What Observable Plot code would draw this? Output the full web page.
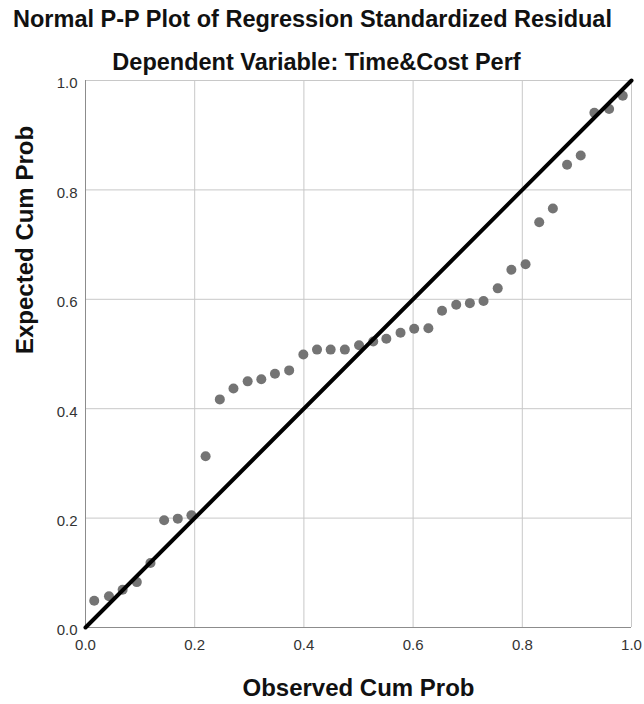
<!DOCTYPE html>
<html>
<head>
<meta charset="utf-8">
<script src="https://cdn.jsdelivr.net/npm/d3@7"></script>
<script src="https://cdn.jsdelivr.net/npm/@observablehq/plot@0.6"></script>
<style>
  html, body { margin: 0; padding: 0; background: #fff; }
  #chart svg { display: block; }
</style>
</head>
<body>
<div id="chart"></div>
<script>
const title = "Normal P-P Plot of Regression Standardized Residual";
const subtitle = "Dependent Variable: Time&Cost Perf";
const xLabel = "Observed Cum Prob";
const yLabel = "Expected Cum Prob";
const ticks = [0, 0.2, 0.4, 0.6, 0.8, 1.0];

const observed = [0.016, 0.043, 0.068, 0.094, 0.119, 0.144, 0.169, 0.194, 0.220, 0.246,
  0.271, 0.297, 0.322, 0.347, 0.373, 0.399, 0.424, 0.449, 0.475, 0.501,
  0.527, 0.551, 0.577, 0.602, 0.628, 0.653, 0.679, 0.704, 0.729, 0.755,
  0.780, 0.806, 0.831, 0.856, 0.882, 0.907, 0.932, 0.959, 0.984];
const expected = [0.049, 0.057, 0.069, 0.083, 0.118, 0.196, 0.199, 0.205, 0.313, 0.417,
  0.437, 0.450, 0.454, 0.464, 0.470, 0.499, 0.508, 0.508, 0.508, 0.516,
  0.523, 0.528, 0.539, 0.546, 0.547, 0.579, 0.590, 0.593, 0.597, 0.620,
  0.654, 0.664, 0.741, 0.766, 0.846, 0.863, 0.941, 0.948, 0.972];
const refLine = [0, 1];

const points = observed.map((o, i) => ({o, e: expected[i]}));
const font = "'Liberation Sans', Arial, sans-serif";

const chart = Plot.plot({
  width: 644,
  height: 704,
  marginLeft: 85,
  marginRight: 13,
  marginTop: 80,
  marginBottom: 77,
  style: {fontFamily: font, fontSize: "15px", color: "#333", background: "#fff", overflow: "visible"},
  x: {domain: [0, 1], label: null},
  y: {domain: [0, 1], label: null},
  marks: [
    Plot.gridX(ticks, {stroke: "#c8c8c8", strokeOpacity: 1, strokeWidth: 1}),
    Plot.gridY(ticks, {stroke: "#c8c8c8", strokeOpacity: 1, strokeWidth: 1}),
    Plot.ruleX([0], {stroke: "#8c8c8c", strokeWidth: 1}),
    Plot.ruleY([0], {stroke: "#8c8c8c", strokeWidth: 1}),
    Plot.dot(points, {x: "o", y: "e", r: 5, fill: "#747474", stroke: "none"}),
    Plot.line(refLine, {x: d => d, y: d => d, stroke: "#000", strokeWidth: 4}),
    Plot.axisX(ticks, {tickSize: 0, tickPadding: 12, tickFormat: d3.format(".1f"), fontSize: 15, fill: "#333", label: null}),
    Plot.axisY(ticks, {tickSize: 0, tickPadding: 8, dy: 3, tickFormat: d3.format(".1f"), fontSize: 15, fill: "#333", label: null}),
    Plot.text([title], {frameAnchor: "top", lineAnchor: "middle", dy: -61.5, dx: -46, fontSize: 23.5, fontWeight: "bold", fill: "#111"}),
    Plot.text([subtitle], {frameAnchor: "top", lineAnchor: "middle", dy: -18.5, dx: -42, fontSize: 23.5, fontWeight: "bold", fill: "#111"}),
    Plot.text([xLabel], {frameAnchor: "bottom", lineAnchor: "middle", dy: 61, dx: 0, fontSize: 24, fontWeight: "bold", fill: "#111"}),
    Plot.text([yLabel], {frameAnchor: "left", lineAnchor: "middle", dx: -60, dy: 0, rotate: -90, fontSize: 24, fontWeight: "bold", fill: "#111"})
  ]
});
document.getElementById("chart").appendChild(chart);
</script>
</body>
</html>
